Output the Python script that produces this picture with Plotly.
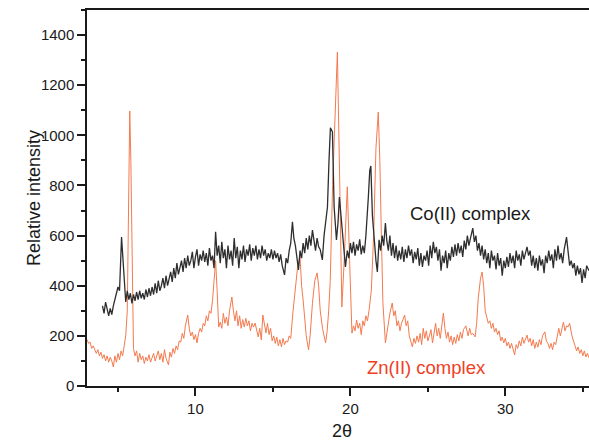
import plotly.graph_objects as go

# Co(II) complex, black trace
co_two_theta = [
	4.0, 4.1, 4.2, 4.3, 4.4, 4.5, 4.6, 4.7, 4.8, 4.9, 5.0, 5.1, 5.23, 5.3, 5.4, 5.5, 5.6, 5.7, 5.8, 5.9,
	6.0, 6.1, 6.2, 6.3, 6.4, 6.5, 6.6, 6.7, 6.8, 6.9, 7.0, 7.1, 7.2, 7.3, 7.4, 7.5, 7.6, 7.7, 7.8, 7.9,
	8.0, 8.1, 8.2, 8.3, 8.4, 8.5, 8.6, 8.7, 8.8, 8.9, 9.0, 9.1, 9.2, 9.3, 9.4, 9.5, 9.6, 9.7, 9.8, 9.9,
	10.0, 10.1, 10.2, 10.3, 10.4, 10.5, 10.6, 10.7, 10.8, 10.9, 11.0, 11.1, 11.2, 11.3, 11.4, 11.5, 11.6, 11.7, 11.8, 11.9,
	12.0, 12.1, 12.2, 12.3, 12.4, 12.5, 12.6, 12.7, 12.8, 12.9, 13.0, 13.1, 13.2, 13.3, 13.4, 13.5, 13.6, 13.7, 13.8, 13.9,
	14.0, 14.1, 14.2, 14.3, 14.4, 14.5, 14.6, 14.7, 14.8, 14.9, 15.0, 15.1, 15.2, 15.3, 15.4, 15.5, 15.6, 15.75, 15.85, 15.95,
	16.05, 16.15, 16.26, 16.35, 16.45, 16.55, 16.65, 16.75, 16.85, 16.95, 17.05, 17.15, 17.25, 17.35, 17.45, 17.55, 17.65, 17.75, 17.85, 17.95,
	18.05, 18.19, 18.3, 18.39, 18.52, 18.62, 18.71, 18.84, 18.95, 19.1, 19.2, 19.29, 19.42, 19.52, 19.61, 19.68, 19.8, 19.9,
	20.0, 20.1, 20.2, 20.3, 20.4, 20.5, 20.6, 20.7, 20.8, 20.9, 21.0, 21.1, 21.16, 21.25, 21.32, 21.42, 21.55, 21.65, 21.74, 21.85, 21.95,
	22.05, 22.15, 22.26, 22.35, 22.45, 22.55, 22.65, 22.75, 22.85, 22.95, 23.05, 23.15, 23.25, 23.35, 23.45, 23.55, 23.65, 23.75, 23.85, 23.95,
	24.05, 24.15, 24.25, 24.35, 24.45, 24.55, 24.65, 24.75, 24.85, 24.95, 25.05, 25.15, 25.25, 25.35, 25.45, 25.55, 25.65, 25.75, 25.85, 25.95,
	26.05, 26.15, 26.25, 26.35, 26.45, 26.55, 26.65, 26.75, 26.85, 26.95, 27.05, 27.15, 27.25, 27.35, 27.45, 27.55, 27.65, 27.75, 27.9,
	28.0, 28.1, 28.2, 28.3, 28.4, 28.5, 28.6, 28.7, 28.8, 28.9, 29.0, 29.1, 29.2, 29.3, 29.4, 29.5, 29.6, 29.7, 29.8, 29.9,
	30.0, 30.1, 30.2, 30.3, 30.4, 30.5, 30.6, 30.7, 30.8, 30.9, 31.0, 31.1, 31.2, 31.3, 31.4, 31.5, 31.6, 31.7, 31.8, 31.9,
	32.0, 32.1, 32.2, 32.3, 32.4, 32.5, 32.6, 32.7, 32.8, 32.9, 33.0, 33.1, 33.2, 33.3, 33.4, 33.5, 33.6, 33.7, 33.8, 33.95,
	34.05, 34.15, 34.25, 34.35, 34.45, 34.55, 34.65, 34.75, 34.85, 34.95, 35.05, 35.15, 35.25, 35.4,
]
co_intensity = [
	320, 290, 335, 300, 280, 310, 285, 320, 340, 370, 395, 380, 594, 520, 411, 335, 380, 345, 370, 330,
	365, 340, 375, 345, 380, 350, 370, 345, 385, 355, 390, 360, 395, 365, 410, 370, 420, 380, 400, 430,
	390, 440, 400, 425, 455, 415, 470, 430, 490, 445, 470, 500, 455, 510, 470, 520, 480, 500, 535, 470,
	515, 545, 480, 525, 500, 540, 495, 530, 480, 550, 500, 520, 470, 615, 520, 560, 490, 575, 510, 545,
	470, 560, 505, 540, 480, 590, 510, 555, 470, 540, 505, 560, 495, 545, 520, 565, 500, 550, 520, 560,
	505, 545, 510, 560, 520, 545, 500, 530, 510, 545, 505, 540, 510, 530, 495, 525, 480, 443, 510, 490,
	540, 570, 655, 590, 560, 520, 463, 540, 510, 570, 530, 590, 545, 600, 560, 622, 575, 540, 590, 555,
	545, 503, 600, 650, 714, 900, 1030, 1014, 714, 583, 650, 754, 662, 560, 503, 475, 540, 510,
	570, 530, 575, 520, 565, 540, 585, 525, 560, 530, 600, 680, 755, 860, 878, 680, 555, 500, 455, 583, 540,
	600, 560, 650, 580, 540, 600, 520, 570, 510, 560, 500, 540, 505, 555, 495, 545, 510, 560, 520, 545,
	490, 535, 505, 550, 480, 530, 475, 520, 500, 540, 480, 560, 510, 575, 530, 555, 500, 545, 460, 520,
	490, 540, 470, 530, 500, 555, 515, 565, 520, 570, 530, 560, 515, 580, 545, 600, 560, 590, 630,
	575, 600, 540, 570, 520, 560, 505, 545, 490, 530, 470, 540, 500, 520, 465, 530, 480, 510, 440, 500,
	470, 515, 475, 530, 490, 520, 470, 540, 500, 525, 480, 540, 505, 530, 555, 520, 540, 480, 520, 470,
	510, 460, 520, 480, 505, 450, 520, 490, 540, 500, 525, 470, 545, 500, 560, 505, 530, 490, 545, 594,
	520, 480, 500, 470, 490, 440, 480, 445, 470, 411, 465, 430, 480, 460,
]

# Zn(II) complex, orange trace
zn_two_theta = [
	3.0, 3.1, 3.2, 3.3, 3.4, 3.5, 3.6, 3.7, 3.8, 3.9, 4.0, 4.1, 4.2, 4.3, 4.4, 4.5, 4.6, 4.7, 4.8, 4.9,
	5.0, 5.1, 5.2, 5.3, 5.4, 5.5, 5.6, 5.68, 5.76, 5.83, 5.9, 5.95, 6.0, 6.1, 6.2, 6.3, 6.4, 6.5, 6.6, 6.7,
	6.8, 6.9, 7.0, 7.1, 7.2, 7.3, 7.4, 7.5, 7.6, 7.7, 7.8, 7.9, 8.0, 8.1, 8.26, 8.35, 8.45, 8.55, 8.65, 8.75,
	8.85, 8.95, 9.05, 9.15, 9.25, 9.35, 9.5, 9.6, 9.7, 9.8, 9.9, 10.0, 10.1, 10.2, 10.3, 10.4, 10.5, 10.6, 10.7, 10.8,
	10.9, 11.0, 11.1, 11.2, 11.3, 11.4, 11.5, 11.6, 11.7, 11.8, 11.9, 12.0, 12.1, 12.2, 12.35, 12.45, 12.55, 12.65, 12.75, 12.85,
	12.95, 13.05, 13.15, 13.25, 13.35, 13.45, 13.55, 13.65, 13.75, 13.85, 13.95, 14.05, 14.15, 14.25, 14.35, 14.45, 14.55, 14.65, 14.75, 14.85,
	14.95, 15.05, 15.15, 15.25, 15.35, 15.45, 15.55, 15.65, 15.75, 15.85, 15.95, 16.05, 16.15, 16.3, 16.45, 16.6, 16.75, 16.85, 16.95, 17.05,
	17.15, 17.3, 17.4, 17.55, 17.7, 17.85, 17.95, 18.05, 18.2, 18.4, 18.5, 18.6, 18.7, 18.85, 19.0, 19.16, 19.3, 19.45, 19.6, 19.8,
	19.95, 20.1, 20.2, 20.3, 20.4, 20.5, 20.6, 20.7, 20.8, 20.9, 21.0, 21.1, 21.2, 21.35, 21.5, 21.65, 21.8, 21.9, 22.0, 22.1,
	22.26, 22.35, 22.45, 22.55, 22.7, 22.8, 22.9, 23.0, 23.1, 23.2, 23.3, 23.4, 23.5, 23.6, 23.7, 23.8, 23.9, 24.0, 24.1, 24.2,
	24.3, 24.4, 24.5, 24.6, 24.7, 24.8, 24.9, 25.0, 25.1, 25.2, 25.3, 25.4, 25.5, 25.6, 25.7, 25.8, 25.9, 26.0, 26.1, 26.2,
	26.3, 26.4, 26.5, 26.6, 26.7, 26.8, 26.9, 27.0, 27.1, 27.2, 27.3, 27.45, 27.6, 27.7, 27.8, 27.9, 28.05, 28.15, 28.25, 28.4,
	28.5, 28.6, 28.7, 28.8, 28.9, 29.0, 29.1, 29.2, 29.3, 29.4, 29.5, 29.6, 29.7, 29.8, 29.9, 30.0, 30.1, 30.2, 30.3, 30.4,
	30.5, 30.6, 30.7, 30.8, 30.9, 31.0, 31.1, 31.2, 31.4, 31.5, 31.6, 31.7, 31.8, 31.9, 32.0, 32.1, 32.2, 32.3, 32.4, 32.55,
	32.65, 32.75, 32.85, 32.95, 33.05, 33.15, 33.25, 33.35, 33.45, 33.55, 33.75, 33.85, 33.95, 34.05, 34.15, 34.3, 34.4, 34.5, 34.6, 34.7,
	34.8, 34.9, 35.0, 35.1, 35.2, 35.3, 35.4,
]
zn_intensity = [
	185, 170, 175, 150, 160, 140, 130, 145, 120, 135, 110, 125, 100, 120, 95, 115, 100, 76, 120, 95,
	130, 105, 140, 120, 155, 200, 300, 700, 1097, 900, 500, 250, 150, 120, 140, 95, 130, 105, 120, 90,
	115, 100, 125, 95, 110, 130, 100, 120, 140, 105, 130, 95, 145, 110, 84, 135, 115, 150, 130, 160,
	145, 180, 175, 210, 190, 240, 283, 230, 200, 215, 185, 205, 172, 210, 230, 215, 250, 240, 280, 260,
	300, 290, 340, 420, 500, 380, 235, 255, 230, 290, 250, 275, 240, 300, 355, 300, 260, 300, 240, 280,
	230, 265, 235, 270, 240, 260, 220, 250, 235, 251, 215, 196, 230, 184, 283, 240, 212, 250, 205, 230,
	180, 200, 170, 195, 160, 185, 156, 190, 165, 180, 175, 200, 190, 300, 400, 480, 515, 400, 343, 280,
	200, 144, 200, 330, 420, 451, 400, 303, 230, 172, 220, 300, 420, 800, 1100, 1332, 850, 315, 500, 795,
	500, 211, 240, 220, 263, 230, 250, 205, 260, 240, 280, 260, 300, 380, 600, 950, 1093, 900, 600, 330,
	172, 210, 260, 290, 331, 280, 300, 240, 260, 220, 250, 270, 283, 240, 260, 200, 180, 156, 190, 170,
	200, 175, 210, 165, 230, 190, 220, 180, 200, 225, 172, 210, 250, 200, 230, 190, 240, 291, 230, 190,
	215, 175, 200, 165, 195, 170, 205, 180, 215, 190, 225, 240, 200, 230, 205, 210, 196, 250, 350, 430,
	455, 400, 300, 276, 250, 260, 230, 250, 215, 230, 205, 220, 180, 195, 172, 190, 160, 175, 150, 170,
	140, 124, 165, 150, 180, 160, 195, 170, 203, 175, 190, 160, 185, 150, 175, 155, 185, 165, 200, 216,
	180, 170, 150, 170, 145, 175, 165, 200, 230, 200, 255, 220, 240, 236, 250, 200, 175, 160, 140, 156,
	130, 145, 120, 140, 116, 130, 112,
]

x_ticks = [10, 20, 30]
y_ticks = [0, 200, 400, 600, 800, 1000, 1200, 1400]

font_family = 'Liberation Sans, Arial, sans-serif'
axis_font = dict(family=font_family, size=15, color='#1a1a1a')

fig = go.Figure()
fig.add_trace(go.Scatter(
	x = zn_two_theta,
	y = zn_intensity,
	mode = 'lines',
	line = dict(color='#f47a4e', width=1),
	name = 'Zn(II) complex',
))
fig.add_trace(go.Scatter(
	x = co_two_theta,
	y = co_intensity,
	mode = 'lines',
	line = dict(color='#2e2e2e', width=1.3),
	name = 'Co(II) complex',
))

fig.update_layout(
	width = 589,
	height = 443,
	margin = dict(l=87, r=0, t=10, b=57),
	plot_bgcolor = 'white',
	paper_bgcolor = 'white',
	showlegend = False,
	font = axis_font,
)
fig.update_xaxes(
	range = [3.0, 35.4],
	tickvals = x_ticks,
	ticks = 'outside',
	ticklen = 8,
	tickwidth = 1.5,
	tickcolor = '#1a1a1a',
	showline = True,
	linecolor = '#1a1a1a',
	linewidth = 1.5,
	mirror = True,
	showgrid = False,
	zeroline = False,
	tickfont = axis_font,
	minor = dict(dtick=5, tick0=0, ticks='outside', ticklen=4, tickwidth=1.5, tickcolor='#1a1a1a', showgrid=False),
)
fig.update_yaxes(
	range = [0, 1500],
	tickvals = y_ticks,
	ticks = 'outside',
	ticklen = 8,
	tickwidth = 1.5,
	tickcolor = '#1a1a1a',
	showline = True,
	linecolor = '#1a1a1a',
	linewidth = 1.5,
	showgrid = False,
	zeroline = False,
	tickfont = axis_font,
	minor = dict(dtick=100, tick0=0, ticks='outside', ticklen=4, tickwidth=1.5, tickcolor='#1a1a1a', showgrid=False),
)

fig.add_annotation(x=27.74, y=690, text='Co(II) complex', showarrow=False,
	font=dict(family=font_family, size=18.5, color='#1a1a1a'))
fig.add_annotation(x=24.9, y=72, text='Zn(II) complex', showarrow=False,
	font=dict(family=font_family, size=18.5, color='#f0401f'))
fig.add_annotation(xref='paper', yref='paper', x=-0.1295, y=0.5, text='Relative intensity', textangle=-90,
	showarrow=False, font=dict(family=font_family, size=18, color='#1a1a1a'))
fig.add_annotation(xref='paper', yref='paper', x=0.508, y=-0.121, yanchor='middle', text='2θ',
	showarrow=False, font=dict(family=font_family, size=18, color='#1a1a1a'))

# page body has a default margin, drop it so the figure sits at the window corner
fig.write_html(
	'out.html',
	config = {'displayModeBar': False},
	post_script = "document.body.style.margin='0';document.body.style.overflow='hidden';",
)
